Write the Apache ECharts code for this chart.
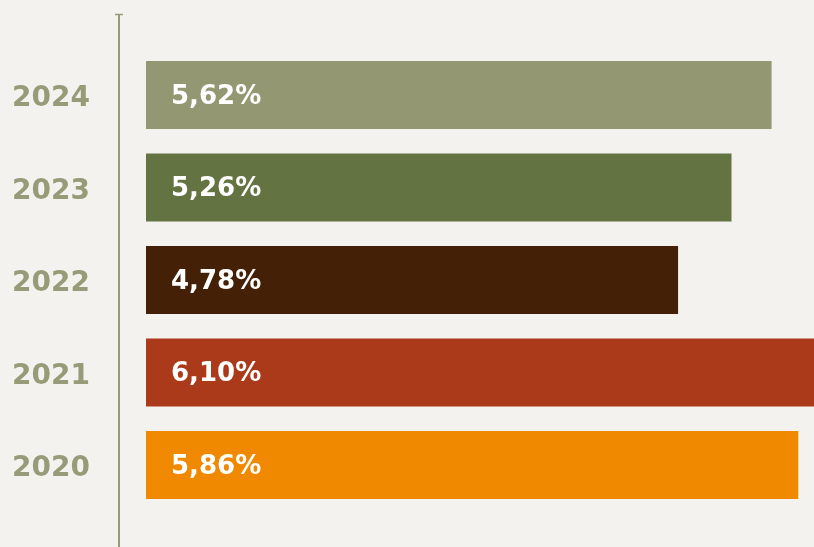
<!DOCTYPE html>
<html><head><meta charset="utf-8">
<script src="https://cdn.jsdelivr.net/npm/echarts@6/dist/echarts.min.js"></script>
<style>html,body{margin:0;padding:0;background:#f3f2ee;}#c{width:814px;height:547px;}</style>
</head><body><div id="c"></div>
<script>
const years = ['2024','2023','2022','2021','2020'];
const values = [5.62, 5.26, 4.78, 6.10, 5.86];
const barColors = ['#949872','#637341','#442106','#aa3a19','#f08800'];

const chart = echarts.init(document.getElementById('c'));
chart.setOption({
  backgroundColor: '#f3f2ee',
  animation: false,
  grid: { left: 146, width: 679, top: 48.75, bottom: 35.75, outerBoundsMode: 'none', containLabel: false },
  xAxis: { type: 'value', min: 0, max: 6.1, show: false },
  yAxis: {
    type: 'category', data: years, inverse: true,
    axisLine: { show: false }, axisTick: { show: false },
    axisLabel: {
      margin: 56, color: '#979b77', fontFamily: 'DejaVu Sans', fontWeight: 'bold', fontSize: 28,
      formatter: '{a|{value}}',
      rich: { a: { color: '#979b77', fontFamily: 'DejaVu Sans', fontWeight: 'bold', fontSize: 28, padding: [8, 0, 0, 0] } }
    }
  },
  graphic: [
    { type: 'line', shape: { x1: 119, y1: 14, x2: 119, y2: 547 }, style: { stroke: '#979b77', lineWidth: 2 } },
    { type: 'line', shape: { x1: 115, y1: 14.5, x2: 123, y2: 14.5 }, style: { stroke: '#979b77', lineWidth: 1.5 } }
  ],
  series: [{
    type: 'bar', barWidth: 68,
    data: values.map((v, i) => ({ value: v, itemStyle: { color: barColors[i] } })),
    label: {
      show: true, position: 'insideLeft', distance: 25, offset: [0, 2], color: '#ffffff',
      fontFamily: 'DejaVu Sans', fontWeight: 'bold', fontSize: 26,
      formatter: p => p.value.toFixed(2).replace('.', ',') + '%'
    }
  }]
});
</script></body></html>
